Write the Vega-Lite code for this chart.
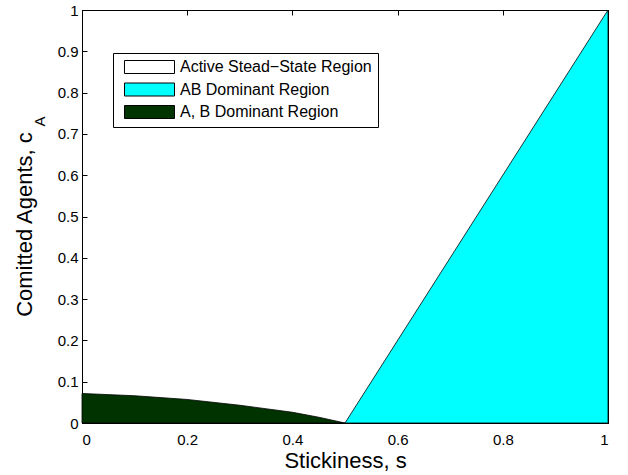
{
  "$schema": "https://vega.github.io/schema/vega-lite/v6.json",
  "width": 526,
  "height": 413,
  "autosize": "none",
  "padding": {"left": 82, "top": 10, "right": 20, "bottom": 52},
  "background": "white",
  "config": {
    "font": "Liberation Sans",
    "view": {"stroke": "black", "strokeWidth": 1},
    "axis": {
      "domainColor": "black",
      "domainWidth": 1,
      "tickColor": "black",
      "tickSize": -5,
      "tickWidth": 1,
      "grid": false,
      "labelColor": "black",
      "labelFontSize": 15,
      "labelFont": "Liberation Sans",
      "titleColor": "black",
      "titleFont": "Liberation Sans",
      "titleFontSize": 22,
      "titleFontWeight": "normal",
      "zindex": 0
    },
    "legend": {
      "orient": "none",
      "legendX": 31,
      "legendY": 43,
      "title": null,
      "padding": 6,
      "strokeColor": "black",
      "fillColor": "white",
      "cornerRadius": 0,
      "labelFont": "Liberation Sans",
      "labelFontSize": 16,
      "labelColor": "black",
      "labelOffset": 45,
      "labelLimit": 400,
      "rowPadding": 4.5,
      "symbolType": "M-0.385,-1H7.31V1H-0.385Z",
      "symbolSize": 169,
      "symbolStrokeColor": "black",
      "symbolStrokeWidth": 1
    }
  },
  "datasets": {
    "abdom": [
      {"s": 0.0, "c": 0.0715, "region": "A, B Dominant Region"},
      {"s": 0.1, "c": 0.066, "region": "A, B Dominant Region"},
      {"s": 0.2, "c": 0.057, "region": "A, B Dominant Region"},
      {"s": 0.3, "c": 0.043, "region": "A, B Dominant Region"},
      {"s": 0.4, "c": 0.026, "region": "A, B Dominant Region"},
      {"s": 0.45, "c": 0.014, "region": "A, B Dominant Region"},
      {"s": 0.5, "c": 0.0, "region": "A, B Dominant Region"}
    ],
    "ab": [
      {"s": 0.5, "c": 0.0, "region": "AB Dominant Region"},
      {"s": 1.0, "c": 1.0, "region": "AB Dominant Region"}
    ],
    "sub": [
      {"s": -0.079, "c": 0.73, "t": "A"}
    ]
  },
  "layer": [
    {
      "data": {"name": "abdom"},
      "mark": {"type": "area", "stroke": "black", "strokeWidth": 0.8},
      "encoding": {
        "x": {
          "field": "s", "type": "quantitative",
          "scale": {"domain": [0, 1], "nice": false, "zero": false},
          "axis": {"orient": "bottom", "values": [0, 0.2, 0.4, 0.6, 0.8, 1], "format": "~g", "labelPadding": 14, "title": "Stickiness, s", "titlePadding": 3}
        },
        "y": {
          "field": "c", "type": "quantitative",
          "scale": {"domain": [0, 1], "nice": false, "zero": false},
          "axis": {"orient": "left", "values": [0, 0.1, 0.2, 0.3, 0.4, 0.5, 0.6, 0.7, 0.8, 0.9, 1], "format": "~g", "labelPadding": 9, "title": "Comitted Agents, c", "titlePadding": 21, "titleY": 214}
        },
        "fill": {
          "field": "region", "type": "nominal",
          "scale": {
            "domain": ["Active Stead\u2212State Region", "AB Dominant Region", "A, B Dominant Region"],
            "range": ["#ffffff", "#00ffff", "#003300"]
          }
        }
      }
    },
    {
      "data": {"name": "ab"},
      "mark": {"type": "area", "stroke": "black", "strokeWidth": 0.8},
      "encoding": {
        "x": {
          "field": "s", "type": "quantitative",
          "scale": {"domain": [0, 1], "nice": false, "zero": false},
          "axis": {"orient": "top", "values": [0, 0.2, 0.4, 0.6, 0.8, 1], "labels": false, "title": null}
        },
        "y": {
          "field": "c", "type": "quantitative",
          "scale": {"domain": [0, 1], "nice": false, "zero": false},
          "axis": {"orient": "right", "values": [0, 0.1, 0.2, 0.3, 0.4, 0.5, 0.6, 0.7, 0.8, 0.9, 1], "labels": false, "title": null}
        },
        "fill": {"field": "region", "type": "nominal"}
      }
    },
    {
      "data": {"name": "sub"},
      "mark": {"type": "text", "angle": 270, "fontSize": 15, "font": "Liberation Sans", "color": "black", "align": "center", "baseline": "middle"},
      "encoding": {
        "x": {"field": "s", "type": "quantitative", "axis": null},
        "y": {"field": "c", "type": "quantitative", "axis": null},
        "text": {"field": "t"}
      }
    }
  ],
  "resolve": {"axis": {"x": "independent", "y": "independent"}}
}
